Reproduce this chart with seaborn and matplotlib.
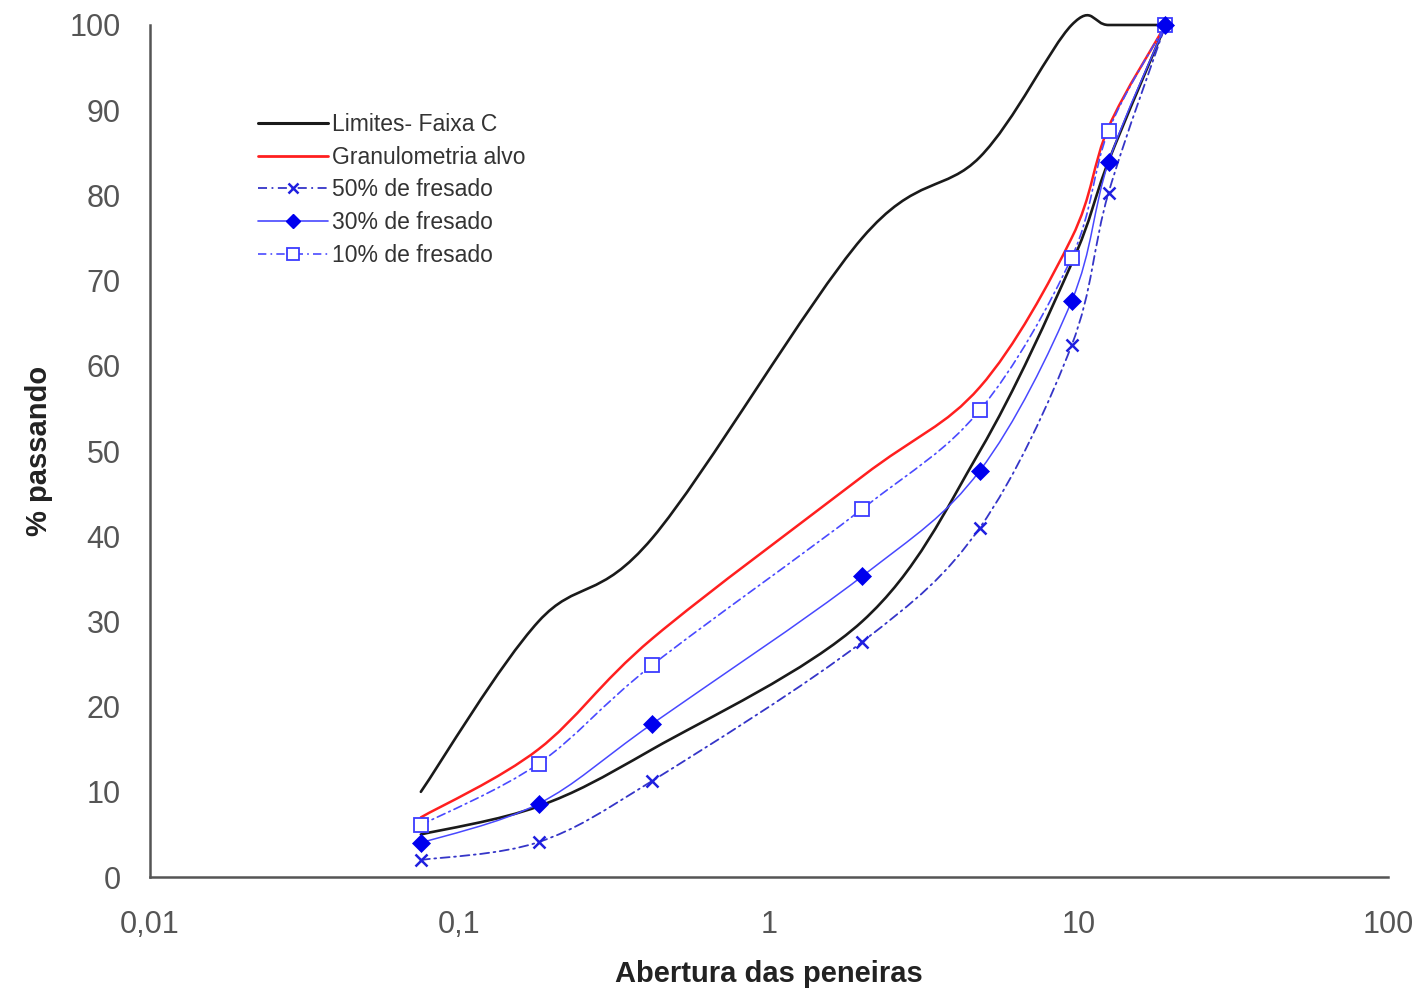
import numpy as np
import matplotlib
matplotlib.use("Agg")
import matplotlib.pyplot as plt
from matplotlib.path import Path
from matplotlib.patches import PathPatch
from matplotlib.lines import Line2D
import seaborn as sns

# ---------------- data ----------------
peneiras = [0.075, 0.18, 0.42, 2.0, 4.8, 9.5, 12.5, 19.1]
limite_inferior = [5.0, 8.3, 15.0, 30.0, 50.0, 72.0, 84.0, 100.0]
limite_superior = [10.0, 30.0, 39.8, 75.0, 84.5, 100.0, 100.0, 100.0]
granulometria_alvo = [7.0, 15.0, 28.0, 47.0, 57.5, 75.0, 88.0, 100.0]
fresado_50 = [2.0, 4.1, 11.3, 27.6, 41.0, 62.4, 80.3, 100.0]
fresado_30 = [4.0, 8.6, 18.0, 35.3, 47.7, 67.6, 83.9, 100.0]
fresado_10 = [6.1, 13.3, 24.9, 43.2, 54.8, 72.7, 87.6, 100.0]

x_ticks = [0.01, 0.1, 1, 10, 100]
x_tick_labels = ["0,01", "0,1", "1", "10", "100"]
y_ticks = list(range(0, 101, 10))

legend_labels = ["Limites- Faixa C", "Granulometria alvo", "50% de fresado",
                 "30% de fresado", "10% de fresado"]

# ---------------- style ----------------
sns.set_style("white")
plt.rcParams["font.family"] = ["Liberation Sans", "DejaVu Sans"]

fig = plt.figure(figsize=(14.22, 9.92), dpi=100)
ax = fig.add_axes([0.1055, 0.1159, 0.8706, 0.8589])
ax.set_xscale("log")


def smooth_path(xs, ys):
    """Excel-like smoothed line: cubic Bezier segments through the data points
    (control points built in log-x space)."""
    P = np.column_stack([np.log10(np.asarray(xs, float)), np.asarray(ys, float)])
    n = len(P)
    verts = [P[0]]
    codes = [Path.MOVETO]
    for i in range(n - 1):
        p0 = P[i - 1] if i > 0 else P[i]
        p1, p2 = P[i], P[i + 1]
        p3 = P[i + 2] if i + 2 < n else P[i + 1]
        b1 = p1 + (p2 - p0) / 6.0
        b2 = p2 - (p3 - p1) / 6.0
        verts += [b1, b2, p2]
        codes += [Path.CURVE4] * 3
    verts = np.array(verts)
    verts[:, 0] = 10 ** verts[:, 0]
    return Path(verts, codes)


DASHDOT = (0, (5, 2.5, 1, 2.5))
styles = {
    "inf": dict(color="#1a1a1a", lw=1.9, ls="-"),
    "sup": dict(color="#1a1a1a", lw=1.9, ls="-"),
    "alvo": dict(color="#ff1f1f", lw=1.8, ls="-"),
    "f50": dict(color="#3535c8", lw=1.3, ls=DASHDOT),
    "f30": dict(color="#4848ff", lw=1.1, ls="-"),
    "f10": dict(color="#4a4aff", lw=1.2, ls=DASHDOT),
}
series = {
    "inf": limite_inferior,
    "sup": limite_superior,
    "alvo": granulometria_alvo,
    "f50": fresado_50,
    "f30": fresado_30,
    "f10": fresado_10,
}

for key, vals in series.items():
    st = styles[key]
    patch = PathPatch(smooth_path(peneiras, vals), fill=False, edgecolor=st["color"],
                      lw=st["lw"], linestyle=st["ls"], clip_on=False, zorder=3,
                      capstyle="round", joinstyle="round")
    ax.add_patch(patch)

# markers drawn with seaborn
sns.lineplot(x=peneiras, y=fresado_50, ax=ax, linestyle="none", marker="x",
             markersize=8, markeredgewidth=1.8, color="#1f1fe0",
             markeredgecolor="#1f1fe0", zorder=5, clip_on=False)
sns.lineplot(x=peneiras, y=fresado_10, ax=ax, linestyle="none", marker="s",
             markersize=9.5, markeredgewidth=1.3, color="#3b3bff",
             markerfacecolor="white", markeredgecolor="#3b3bff", zorder=5,
             clip_on=False)
sns.lineplot(x=peneiras, y=fresado_30, ax=ax, linestyle="none", marker="D",
             markersize=9, markeredgewidth=0.5, color="#0000ee",
             markerfacecolor="#0000ee", markeredgecolor="#0000ee", zorder=6,
             clip_on=False)

# ---------------- axes ----------------
ax.set_xlim(0.01, 100)
ax.set_ylim(0, 100)
ax.set_xticks(x_ticks)
ax.set_xticklabels(x_tick_labels)
ax.xaxis.set_minor_locator(matplotlib.ticker.NullLocator())
ax.set_yticks(y_ticks)
ax.set_yticklabels([str(v) for v in y_ticks])

for side in ["top", "right"]:
    ax.spines[side].set_visible(False)
for side in ["left", "bottom"]:
    ax.spines[side].set_color("#555555")
    ax.spines[side].set_linewidth(1.8)

ax.tick_params(axis="both", which="major", direction="out", length=7, width=1.5,
               color="#555555", labelsize=22, labelcolor="#555555")
ax.tick_params(axis="y", pad=14)
ax.tick_params(axis="x", pad=17)

ax.set_xlabel("Abertura das peneiras", fontsize=21, fontweight="bold",
              color="#222222", labelpad=14)
ax.set_ylabel("% passando", fontsize=21, fontweight="bold",
              color="#222222", labelpad=12)

# ---------------- legend ----------------
handles = [
    Line2D([], [], color="#1a1a1a", lw=2.2),
    Line2D([], [], color="#ff1f1f", lw=2.0),
    Line2D([], [], color="#3535c8", lw=1.3, ls=DASHDOT, marker="x",
           markersize=7, markeredgewidth=1.8, markeredgecolor="#1f1fe0"),
    Line2D([], [], color="#4848ff", lw=1.2, marker="D", markersize=7.5,
           markerfacecolor="#0000ee", markeredgecolor="#0000ee"),
    Line2D([], [], color="#4a4aff", lw=1.2, ls=DASHDOT, marker="s",
           markersize=8, markerfacecolor="white", markeredgecolor="#3b3bff",
           markeredgewidth=1.3),
]
leg = ax.legend(handles, legend_labels, loc="upper left",
                bbox_to_anchor=(0.087, 0.897), frameon=False, fontsize=16.5,
                handlelength=3.05, handletextpad=0.2, labelspacing=0.43,
                borderpad=0, borderaxespad=0)
for t in leg.get_texts():
    t.set_color("#333333")

fig.savefig("out.png", dpi=100)
